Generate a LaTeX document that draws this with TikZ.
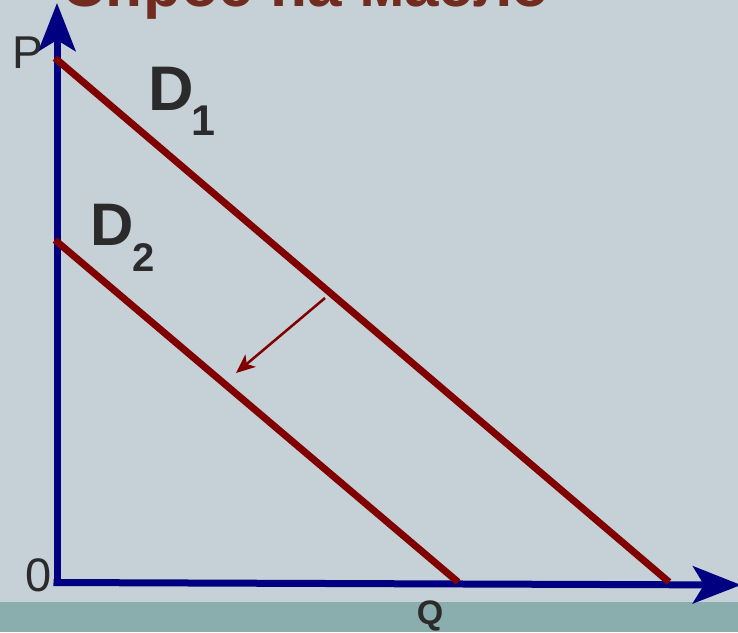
\documentclass[tikz,border=0pt]{standalone}
\usepackage{fontspec}
\setmainfont{Liberation Sans}
\usetikzlibrary{arrows.meta}
\definecolor{bgc}{RGB}{197,208,215}
\definecolor{bandc}{RGB}{138,173,173}
\definecolor{axisc}{RGB}{0,0,128}
\definecolor{curvec}{RGB}{128,0,0}
\definecolor{titlec}{RGB}{114,43,31}
\definecolor{txtc}{RGB}{43,43,43}
\tikzset{
  axisline/.style={draw=axisc, line width=7pt, -{Stealth[length=48pt,width=37pt,inset=11pt]}},
  demand/.style={draw=curvec, line width=7pt},
  shiftarrow/.style={draw=curvec, line width=2.5pt, -{Stealth[length=19pt,width=16pt,inset=5pt]}},
  lbl/.style={inner sep=0pt, text=txtc, anchor=base},
}
\begin{document}
\begin{tikzpicture}[x=1pt,y=-1pt]
\useasboundingbox (0,0) rectangle (738,632);
\fill[bgc] (0,0) rectangle (738,632);
\fill[bandc] (0,602) rectangle (738,632);
% title (cut off at the top, as in the reference)
\node[inner sep=0pt, anchor=base west, text=titlec, font=\fontsize{62}{62}\selectfont\bfseries] (title) at (61,6) {Спрос на масло};
% axes
\coordinate (origin) at (57,586);
\coordinate (ptop) at (57,3);
\coordinate (hstart) at (53.5,582.5);
\coordinate (qend) at (741,585);
\draw[axisline] (origin) -- (ptop);
\draw[axisline] (hstart) -- (qend);
% demand curves
\coordinate (d1a) at (55,58);
\coordinate (d1b) at (669,582);
\coordinate (d2a) at (55,240);
\coordinate (d2b) at (458,582);
\draw[demand] (d1a) -- (d1b);
\draw[demand] (d2a) -- (d2b);
% shift arrow
\coordinate (sa) at (325,298);
\coordinate (sb) at (236,373);
\draw[shiftarrow] (sa) -- (sb);
% labels
\node[lbl, font=\fontsize{46}{46}\selectfont] (plbl) at (27.5,68) {P};
\node[lbl, font=\fontsize{47}{47}\selectfont] (zero) at (39,591) {0};
\node[lbl, font=\fontsize{34}{34}\selectfont\bfseries] (qlbl) at (430,624) {Q};
\node[lbl, font=\fontsize{63}{63}\selectfont\bfseries] (d1) at (171.5,110) {D};
\node[lbl, font=\fontsize{43}{43}\selectfont\bfseries] (d1sub) at (203,135) {1};
\node[lbl, font=\fontsize{60}{60}\selectfont\bfseries] (d2) at (112,245) {D};
\node[lbl, font=\fontsize{40}{40}\selectfont\bfseries] (d2sub) at (143.5,271) {2};
\end{tikzpicture}
\end{document}
